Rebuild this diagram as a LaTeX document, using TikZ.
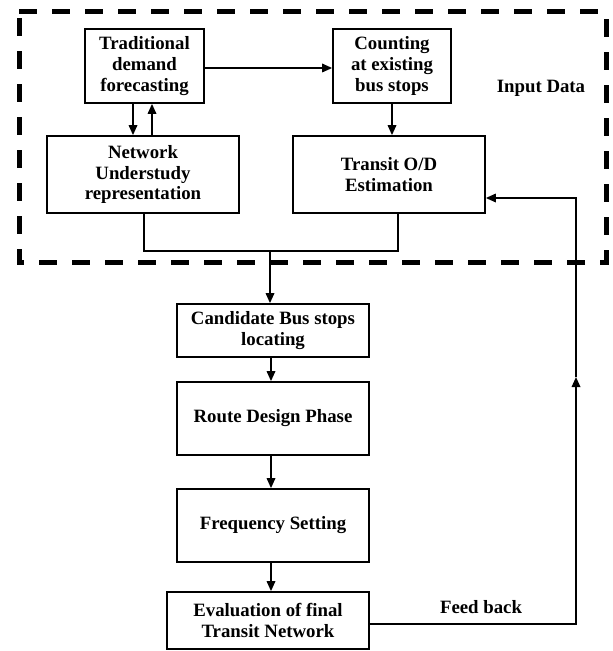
\documentclass[tikz,border=0pt]{standalone}
\usepackage{fontspec}
\setmainfont{Liberation Serif}
\usetikzlibrary{arrows.meta}
\begin{document}
\begin{tikzpicture}[x=1bp,y=-1bp,
  txt/.style={font=\fontsize{18.8bp}{20.7bp}\selectfont\bfseries},
  box/.style={txt, draw, line width=1.7bp, inner sep=0pt, align=center},
  lbl/.style={txt, inner sep=0pt},
  ln/.style={line width=1.7bp},
  arr/.style={ln, -{Triangle[length=10bp,width=8.5bp]}},
  dashbox/.style={line width=5bp, dash pattern=on 18bp off 15bp}]
\useasboundingbox (0,0) rectangle (613,651);
\fill[white] (0,0) rectangle (613,651);
% dashed input frame
\draw[dashbox] (19,12) -- (606,12) -- (606,262) -- (19,262) -- cycle;
% nodes
\node[box, minimum width=119bp, minimum height=74bp] (trad) at (144.5,66) {Traditional\\demand\\forecasting};
\node[box, minimum width=118bp, minimum height=74bp] (count) at (392,66) {Counting\\at existing\\bus stops};
\node[box, minimum width=192bp, minimum height=77bp] (net) at (143,174.5) {Network\\Understudy\\representation};
\node[box, minimum width=192bp, minimum height=77bp] (od) at (389,174.5) {Transit O/D\\Estimation};
\node[lbl] (input) at (541,88) {Input Data};
\node[box, minimum width=192bp, minimum height=53bp] (cand) at (273,330.5) {Candidate Bus stops\\locating};
\node[box, minimum width=192bp, minimum height=73bp] (route) at (273,418.5) {Route Design Phase};
\node[box, minimum width=192bp, minimum height=73bp] (freq) at (273,525.5) {Frequency Setting};
\node[box, minimum width=202bp, minimum height=57bp] (eval) at (268,620.5) {Evaluation of final\\Transit Network};
\node[lbl] (fb) at (481,607) {Feed back};
% connectors
\draw[arr] ([yshift=-2bp]trad.east) -- ([yshift=-2bp]count.west);
\draw[arr] ([xshift=-11.5bp]trad.south) -- ([xshift=-11.5bp]trad.south |- net.north);
\draw[arr] ([xshift=7.5bp]trad.south |- net.north) -- ([xshift=7.5bp]trad.south);
\draw[arr] (count.south) -- (count.south |- od.north);
\coordinate (m) at (270,251);
\draw[ln] ([xshift=1bp]net.south) |- (m) -| ([xshift=9bp]od.south);
\draw[arr] (m) -- (m |- cand.north);
\draw[arr] ([xshift=-2bp]cand.south) -- ([xshift=-2bp]route.north);
\draw[arr] ([xshift=-2bp]route.south) -- ([xshift=-2bp]freq.north);
\draw[arr] ([xshift=-2bp]freq.south) -- ([xshift=3bp]eval.north);
\coordinate (fbm) at (576,377);
\draw[arr] ([yshift=-3.5bp]eval.east) -| (fbm);
\draw[arr] (fbm) |- ([yshift=-23.5bp]od.east);
\end{tikzpicture}
\end{document}
